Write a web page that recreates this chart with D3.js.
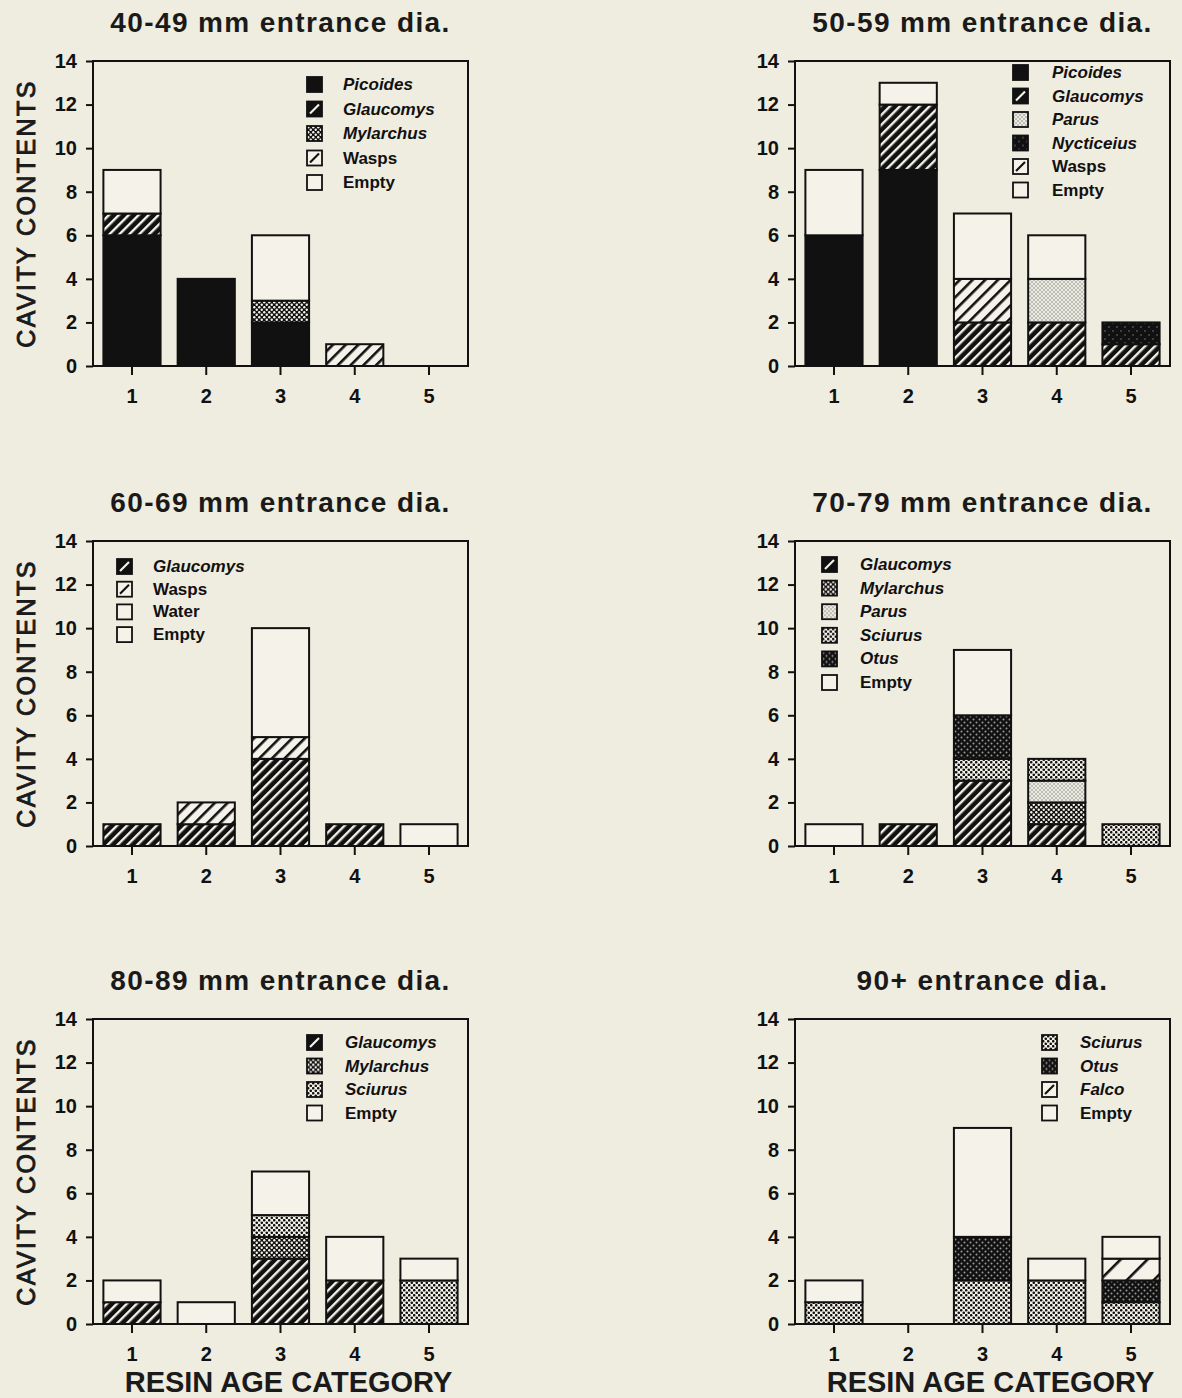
<!DOCTYPE html>
<head>
<meta charset="utf-8">
<script src="https://cdn.jsdelivr.net/npm/d3@7/dist/d3.min.js"></script>
<style>
  body { margin: 0; background: #efece0; }
  svg { display: block; }
</style>
</head>
<body>
<div id="chart"></div>
<script>
  // resin age categories on the x axis, counts on the y axis
  var categories = ["1", "2", "3", "4", "5"];
  var yTicks = [0, 2, 4, 6, 8, 10, 12, 14];
  var titles = ["40-49 mm entrance dia.", "50-59 mm entrance dia.",
                "60-69 mm entrance dia.", "70-79 mm entrance dia.",
                "80-89 mm entrance dia.", "90+ entrance dia."];

  // 40-49 mm
  var names1 = ["Picoides", "Glaucomys", "Mylarchus", "Wasps", "Empty"];
  var values1 = [[6, 4, 2, 0, 0], [1, 0, 0, 0, 0], [0, 0, 1, 0, 0], [0, 0, 0, 1, 0], [2, 0, 3, 0, 0]];
  // 50-59 mm
  var names2 = ["Picoides", "Glaucomys", "Parus", "Nycticeius", "Wasps", "Empty"];
  var values2 = [[6, 9, 0, 0, 0], [0, 3, 2, 2, 1], [0, 0, 0, 2, 0], [0, 0, 0, 0, 1], [0, 0, 2, 0, 0], [3, 1, 3, 2, 0]];
  // 60-69 mm
  var names3 = ["Glaucomys", "Wasps", "Water", "Empty"];
  var values3 = [[1, 1, 4, 1, 0], [0, 1, 1, 0, 0], [0, 0, 0, 0, 0], [0, 0, 5, 0, 1]];
  // 70-79 mm
  var names4 = ["Glaucomys", "Mylarchus", "Parus", "Sciurus", "Otus", "Empty"];
  var values4 = [[0, 1, 3, 1, 0], [0, 0, 0, 1, 0], [0, 0, 0, 1, 0], [0, 0, 1, 1, 1], [0, 0, 2, 0, 0], [1, 0, 3, 0, 0]];
  // 80-89 mm
  var names5 = ["Glaucomys", "Mylarchus", "Sciurus", "Empty"];
  var values5 = [[1, 0, 3, 2, 0], [0, 0, 1, 0, 0], [0, 0, 1, 0, 2], [1, 1, 2, 2, 1]];
  // 90+
  var names6 = ["Sciurus", "Otus", "Falco", "Empty"];
  var values6 = [[1, 0, 2, 2, 1], [0, 0, 2, 0, 1], [0, 0, 0, 0, 1], [1, 0, 5, 1, 1]];

  var plainNames = ["Wasps", "Water", "Empty"];

  var width = 1182, height = 1398;
  var colLeft = [93, 795], rowTop = [61, 541, 1019];
  var pw = 375, ph = 305;

  var panels = [
    {col: 0, row: 0, names: names1, values: values1, lx: 214, ly: 16, step: 24.5, tx: 36},
    {col: 1, row: 0, names: names2, values: values2, lx: 218, ly: 4, step: 23.5, tx: 39},
    {col: 0, row: 1, names: names3, values: values3, lx: 24, ly: 18, step: 22.7, tx: 36},
    {col: 1, row: 1, names: names4, values: values4, lx: 27, ly: 16, step: 23.6, tx: 38},
    {col: 0, row: 2, names: names5, values: values5, lx: 214, ly: 16, step: 23.5, tx: 38},
    {col: 1, row: 2, names: names6, values: values6, lx: 247, ly: 16, step: 23.5, tx: 38}
  ];

  var svg = d3.select("#chart").append("svg")
      .attr("width", width)
      .attr("height", height);

  svg.append("rect").attr("width", width).attr("height", height).attr("fill", "#efece0");

  var light = "#f5f3e9", ink = "#111";
  var defs = svg.append("defs");

  //diagonal stripes: vertical bars in a rotated tile
  function stripes(id, bg, fg, period, w) {
    var p = defs.append("pattern").attr("id", id)
      .attr("patternUnits", "userSpaceOnUse")
      .attr("width", period).attr("height", period)
      .attr("patternTransform", "rotate(45)");
    p.append("rect").attr("width", period).attr("height", period).attr("fill", bg);
    p.append("rect").attr("width", w).attr("height", period).attr("fill", fg);
  }
  function dots(id, bg, fg, size, r) {
    var p = defs.append("pattern").attr("id", id)
      .attr("patternUnits", "userSpaceOnUse")
      .attr("width", size).attr("height", size);
    p.append("rect").attr("width", size).attr("height", size).attr("fill", bg);
    p.append("circle").attr("cx", size / 4).attr("cy", size / 4).attr("r", r).attr("fill", fg);
    p.append("circle").attr("cx", size * 3 / 4).attr("cy", size * 3 / 4).attr("r", r).attr("fill", fg);
  }
  stripes("p-glaucomys", ink, light, 7, 2.4);
  stripes("p-wasps", light, ink, 9, 2.6);
  stripes("p-falco", light, ink, 19, 2.6);
  dots("p-mylarchus", ink, light, 5, 1.2);
  dots("p-sciurus", light, ink, 5, 1.3);
  dots("p-parus", "#ecebe2", "#7a7a74", 4, 0.75);
  dots("p-otus", ink, "#9a9a94", 6, 1.0);
  dots("p-nycticeius", ink, "#777", 8, 0.8);

  var fills = {
    "Picoides": ink,
    "Glaucomys": "url(#p-glaucomys)",
    "Mylarchus": "url(#p-mylarchus)",
    "Wasps": "url(#p-wasps)",
    "Falco": "url(#p-falco)",
    "Parus": "url(#p-parus)",
    "Sciurus": "url(#p-sciurus)",
    "Otus": "url(#p-otus)",
    "Nycticeius": "url(#p-nycticeius)",
    "Water": light,
    "Empty": light
  };
  // striped swatches in the legend show a single slash
  var slash = {"Glaucomys": [ink, light], "Wasps": [light, ink], "Falco": [light, ink]};

  var x = d3.scaleBand().domain(categories).range([0, pw]).paddingInner(0.23).paddingOuter(0.14);
  var y = d3.scaleLinear().domain([0, 14]).range([ph, 0]);

  panels.forEach(function(p, i) {
    var g = svg.append("g")
      .attr("transform", "translate(" + colLeft[p.col] + "," + rowTop[p.row] + ")");

    // title
    g.append("text")
      .attr("x", pw / 2).attr("y", -29)
      .attr("text-anchor", "middle")
      .style("font", "bold 28px 'Liberation Sans', Arial, sans-serif")
      .style("letter-spacing", "1.4px")
      .attr("fill", "#1a1a1a")
      .text(titles[i]);

    // stacked bars, first series at the bottom
    var series = d3.stack().keys(d3.range(p.names.length))
      (categories.map(function(c, j) {
        var row = {};
        p.values.forEach(function(v, k) { row[k] = v[j]; });
        return row;
      }));

    series.forEach(function(s, k) {
      g.append("g").selectAll("rect")
        .data(s.filter(function(d) { return d[1] - d[0] > 0; }).map(function(d) {
          return {cat: categories[s.indexOf(d)], y0: d[0], y1: d[1]};
        }))
        .enter().append("rect")
        .attr("x", function(d) { return x(d.cat); })
        .attr("y", function(d) { return y(d.y1); })
        .attr("width", x.bandwidth())
        .attr("height", function(d) { return y(d.y0) - y(d.y1); })
        .attr("fill", fills[p.names[k]])
        .attr("stroke", ink)
        .attr("stroke-width", 2);
    });

    // frame
    g.append("rect")
      .attr("width", pw).attr("height", ph)
      .attr("fill", "none").attr("stroke", ink).attr("stroke-width", 2);

    var yAxis = g.append("g")
      .call(d3.axisLeft(y).tickValues(yTicks).tickSize(7).tickPadding(9));
    var xAxis = g.append("g").attr("transform", "translate(0," + ph + ")")
      .call(d3.axisBottom(x).tickSize(9).tickPadding(14));
    [yAxis, xAxis].forEach(function(a) {
      a.select(".domain").remove();
      a.selectAll("line").attr("stroke", ink).attr("stroke-width", 2);
      a.selectAll("text")
        .style("font", "bold 20px 'Liberation Sans', Arial, sans-serif")
        .attr("fill", ink);
    });

    // legend
    var leg = g.append("g").attr("transform", "translate(" + p.lx + "," + p.ly + ")");
    p.names.forEach(function(n, k) {
      var r = leg.append("g").attr("transform", "translate(0," + (k * p.step) + ")");
      r.append("rect")
        .attr("width", 15).attr("height", 15)
        .attr("fill", slash[n] ? slash[n][0] : fills[n])
        .attr("stroke", ink).attr("stroke-width", 1.8);
      if (slash[n]) {
        r.append("line")
          .attr("x1", 3).attr("y1", 12).attr("x2", 12).attr("y2", 3)
          .attr("stroke", slash[n][1]).attr("stroke-width", 2.2);
      }
      r.append("text")
        .attr("x", p.tx).attr("y", 13)
        .style("font", (plainNames.indexOf(n) < 0 ? "italic " : "") + "bold 17px 'Liberation Sans', Arial, sans-serif")
        .attr("fill", ink)
        .text(n);
    });

    if (p.col === 0) {
      g.append("text")
        .attr("transform", "translate(-58," + (ph / 2) + ") rotate(-90)")
        .attr("text-anchor", "middle")
        .style("font", "25px 'Liberation Sans', Arial, sans-serif")
        .style("letter-spacing", "2.4px")
        .attr("fill", "#1a1a1a").attr("stroke", "#1a1a1a").attr("stroke-width", 0.9)
        .text("CAVITY CONTENTS");
    }
    if (p.row === 2) {
      g.append("text")
        .attr("x", pw / 2 + 8).attr("y", ph + 68)
        .attr("text-anchor", "middle")
        .style("font", "bold 29px 'Liberation Sans', Arial, sans-serif")
        .attr("fill", "#1a1a1a")
        .text("RESIN AGE CATEGORY");
    }
  });
</script>
</body>
</html>
